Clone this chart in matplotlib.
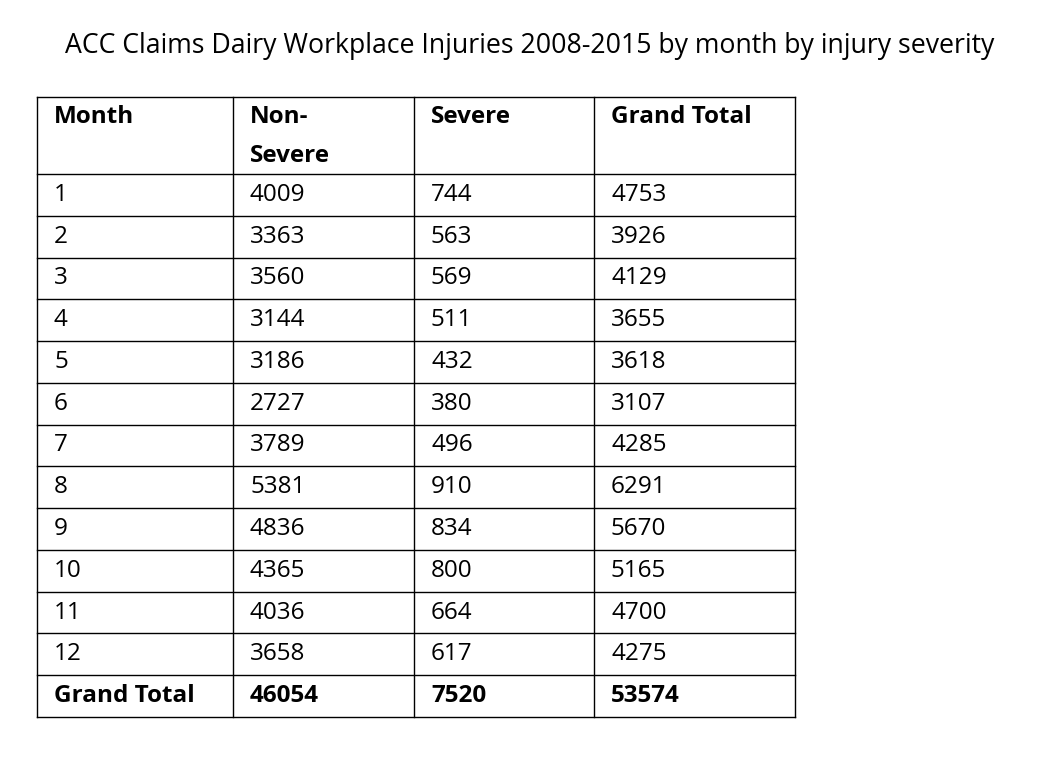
import matplotlib
matplotlib.use("Agg")
import matplotlib.pyplot as plt

title = "ACC Claims Dairy Workplace Injuries 2008-2015 by month by injury severity"
headers = ["Month", "Non-\nSevere", "Severe", "Grand Total"]
months = [str(m) for m in range(1, 13)] + ["Grand Total"]
non_severe = [4009, 3363, 3560, 3144, 3186, 2727, 3789, 5381, 4836, 4365, 4036, 3658, 46054]
severe = [744, 563, 569, 511, 432, 380, 496, 910, 834, 800, 664, 617, 7520]
grand_total = [4753, 3926, 4129, 3655, 3618, 3107, 4285, 6291, 5670, 5165, 4700, 4275, 53574]

fig = plt.figure(figsize=(10.5, 7.58), dpi=100)
ax = fig.add_axes([0, 0, 1, 1])
ax.set_xlim(0, 1050)
ax.set_ylim(758, 0)
ax.axis("off")

font = "Open Sans"
ax.text(530, 46, title, ha="center", va="center", fontsize=19.2, family=font)

cols = [37, 233, 414, 594, 795]
top, head_bot, bottom = 97, 174, 717
n = len(months)
rh = (bottom - head_bot) / n
rows = [head_bot + i * rh for i in range(n + 1)]

lw = 1.0
for x in cols:
    ax.plot([x, x], [top, bottom], color="black", lw=lw)
for y in [top] + rows:
    ax.plot([cols[0], cols[-1]], [y, y], color="black", lw=lw)

pad = 17
fs = 17.5
for j, h in enumerate(headers):
    lines = h.split("\n")
    for k, line in enumerate(lines):
        ax.text(cols[j] + pad, 117 + 39 * k, line, ha="left", va="center", fontsize=fs,
                family=font, weight="bold")

for i in range(n):
    yc = rows[i] + rh / 2
    bold = "bold" if i == n - 1 else "normal"
    vals = [months[i], str(non_severe[i]), str(severe[i]), str(grand_total[i])]
    for j, v in enumerate(vals):
        ax.text(cols[j] + pad, yc, v, ha="left", va="center", fontsize=fs,
                family=font, weight=bold)

fig.savefig("out.png", dpi=100, facecolor="white")
